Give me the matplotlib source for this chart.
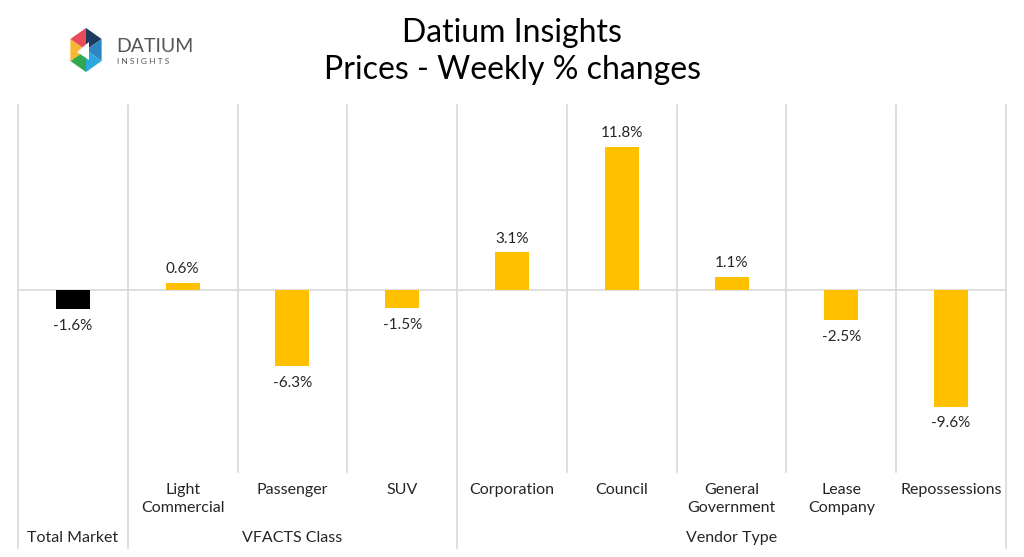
import matplotlib.pyplot as plt
import matplotlib.transforms as mtransforms
from matplotlib.patches import Polygon
import numpy as np

plt.rcParams['font.family'] = ['Lato', 'DejaVu Sans']

# --- Data ---
categories = ["Total Market", "Light\nCommercial", "Passenger", "SUV", "Corporation",
              "Council", "General\nGovernment", "Lease\nCompany", "Repossessions"]
changes = [-1.6, 0.6, -6.3, -1.5, 3.1, 11.8, 1.1, -2.5, -9.6]
groups = ["Total Market", "VFACTS Class", "Vendor Type"]
group_spans = [(0, 1), (1, 4), (4, 9)]  # category index ranges

BLACK = "#000000"
YELLOW = "#FFC000"
GRID = "#D9D9D9"
TEXT = "#262626"

fig = plt.figure(figsize=(10.24, 5.57), dpi=100)
ax = fig.add_axes([18 / 1024, 1 - 472 / 557, (1006 - 18) / 1024, (472 - 105) / 557])

x = np.arange(len(categories))
colors = [BLACK] + [YELLOW] * (len(categories) - 1)
ax.bar(x, changes, width=0.31, color=colors, zorder=3)

ax.set_xlim(-0.5, len(categories) - 0.5)
ax.set_ylim(-15.0, 15.26)
ax.axhline(0, color=GRID, lw=1.2, zorder=2)

for xi, v in zip(x, changes):
    if v >= 0:
        ax.text(xi, v + 0.55, f"{v:.1f}%", ha="center", va="bottom", fontsize=11, color=TEXT)
    else:
        ax.text(xi, v - 0.8, f"{v:.1f}%", ha="center", va="top", fontsize=11, color=TEXT)

for s in ax.spines.values():
    s.set_visible(False)
ax.set_xticks([])
ax.set_yticks([])

# separators: full height for group borders, plot area only inside groups
trans = mtransforms.blended_transform_factory(ax.transData, ax.transAxes)
group_edges = {g[0] for g in group_spans} | {group_spans[-1][1]}
for i in range(len(categories) + 1):
    xb = i - 0.5
    y0 = -(548 - 472) / (472 - 105) if i in group_edges else 0
    ax.plot([xb, xb], [y0, 1], color=GRID, lw=1.2, transform=trans, clip_on=False, zorder=1)

# category labels
for xi, lab in enumerate(categories):
    if xi == 0:
        continue
    ax.text(xi, -(483 - 472) / (472 - 105), lab, ha="center", va="top", fontsize=11.5,
            color=TEXT, transform=trans, linespacing=1.35)

# group labels
for name, (a, b) in zip(groups, group_spans):
    xc = (a + b - 1) / 2
    ax.text(xc, -(538 - 472) / (472 - 105), name, ha="center", va="center", fontsize=11.5,
            color=TEXT, transform=trans)

# title
fig.text(0.5, 1 - 33 / 557, "Datium Insights", ha="center", va="center", fontsize=23, color="#000000")
fig.text(0.5, 1 - 70 / 557, "Prices - Weekly % changes", ha="center", va="center", fontsize=23, color="#000000")

# logo (rough)
lax = fig.add_axes([0, 1 - 110 / 557, 300 / 1024, 110 / 557])
lax.set_xlim(0, 300)
lax.set_ylim(110, 0)
lax.axis("off")
cx, cy, r = 86, 50, 22
angles = np.deg2rad(np.arange(-90, 270, 60))
pts = [(cx + r * 0.82 * np.cos(a), cy + r * np.sin(a)) for a in angles]
logo_cols = ["#1E3A5F", "#2E86C1", "#29A9E0", "#2FA84F", "#F7B733", "#E94B5B"]
for k in range(6):
    lax.add_patch(Polygon([(cx, cy), pts[k], pts[(k + 1) % 6]], closed=True,
                          color=logo_cols[k], lw=0))
lax.add_patch(Polygon([(cx - 9, cy + 2), (cx + 3, cy - 8), (cx + 3, cy + 10)], closed=True,
                      color="white", lw=0))
lax.text(116, 47, "DATIUM", fontsize=14, color="#555555", va="center", ha="left")
lax.text(117, 61, "I N S I G H T S", fontsize=6, color="#555555", va="center", ha="left")

fig.savefig("out.png", dpi=100)
